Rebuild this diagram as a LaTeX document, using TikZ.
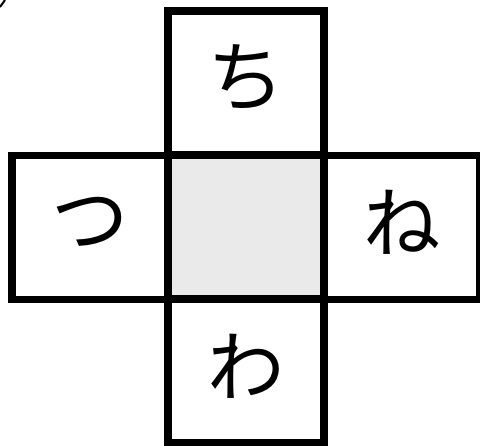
\documentclass[tikz,border=0pt]{standalone}
\usepackage{fontspec}
\newfontfamily\jpfont{Noto Sans CJK JP}
\definecolor{cellgray}{HTML}{EAEAEA}

\begin{document}
\begin{tikzpicture}[x=0.02cm, y=-0.02cm,
	cell/.style={draw=black, line width=0.15cm, rectangle, inner sep=0pt,
		minimum width=3.12cm, minimum height=2.88cm},
	kana/.style={font=\jpfont\fontsize{44}{44}\selectfont, yshift=0.1cm}]
			\useasboundingbox (0, 0) rectangle (480, 446);

			% Ô giữa (tô xám)
			\node[cell, fill=cellgray] (mid) at (246, 227.5) {};

			% Các ô xung quanh
			\node[cell] (top) at (246, 83) {};
			\node[cell] (left) at (90, 227.5) {};
			\node[cell] (right) at (402, 227.5) {};
			\node[cell] (bot) at (246, 371) {};

			% Các chữ trong ô
			\node[kana] (topchar) at (top.center) {ち};
			\node[kana] (leftchar) at (left.center) {つ};
			\node[kana] (rightchar) at (right.center) {ね};
			\node[kana] (botchar) at (bot.center) {わ};

			% Nét nhỏ ở góc trên trái
			\draw[line width=0.04cm] (0, 7) -- (5, 0);
		\end{tikzpicture}
\end{document}
